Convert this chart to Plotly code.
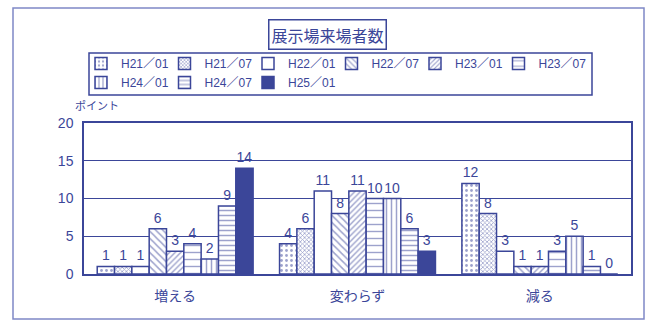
import plotly.graph_objects as go

# Survey answers per period
categories = ["増える", "変わらず", "減る"]
periods = ["H21／01", "H21／07", "H22／01", "H22／07", "H23／01",
           "H23／07", "H24／01", "H24／07", "H25／01"]
h21_01 = [1, 4, 12]
h21_07 = [1, 6, 8]
h22_01 = [1, 11, 3]
h22_07 = [6, 8, 1]
h23_01 = [3, 11, 1]
h23_07 = [4, 10, 3]
h24_01 = [2, 10, 5]
h24_07 = [9, 6, 1]
h25_01 = [14, 3, 0]
series = [h21_01, h21_07, h22_01, h22_07, h23_01, h23_07, h24_01, h24_07, h25_01]

NAVY = "#3b4699"
LIGHT = "#7f88c6"
FONT = "Liberation Sans, Noto Sans CJK JP, sans-serif"

# Plot-area pixel geometry, used to place items given in paper units
PLOT_L, PLOT_W, PLOT_B, PLOT_H = 84, 547, 274, 151


def px_x(px):
    return (px - PLOT_L) / PLOT_W


def px_y(py):
    return (PLOT_B - py) / PLOT_H


# Fill pattern for each period's bars
patterns = [
    dict(shape=".", size=5, solidity=0.25, fgcolor=NAVY, bgcolor="white"),
    dict(shape="x", size=3, solidity=0.45, fgcolor=NAVY, bgcolor="white"),
    dict(shape="", fgcolor=NAVY, bgcolor="white"),
    dict(shape="\\", size=5, solidity=0.3, fgcolor=NAVY, bgcolor="white"),
    dict(shape="/", size=4, solidity=0.35, fgcolor=NAVY, bgcolor="white"),
    dict(shape="-", size=7, solidity=0.2, fgcolor=NAVY, bgcolor="white"),
    dict(shape="|", size=5, solidity=0.3, fgcolor=NAVY, bgcolor="white"),
    dict(shape="-", size=5, solidity=0.3, fgcolor=NAVY, bgcolor="white"),
    dict(shape="", fgcolor=NAVY, bgcolor="white"),
]

N_COLS = 6
COL_PITCH = 83.5


def legend_id(col):
    return "legend" if col == 0 else f"legend{col + 1}"


fig = go.Figure()
for i, (name, vals) in enumerate(zip(periods, series)):
    color = NAVY if i == len(series) - 1 else "white"
    fig.add_trace(go.Bar(
        name=name, x=categories, y=vals,
        text=[str(v) for v in vals], textposition="outside",
        textfont=dict(size=14, color=NAVY, family=FONT),
        cliponaxis=False,
        legend=legend_id(i % N_COLS),
        marker=dict(color=color, line=dict(color=NAVY, width=1.5),
                    pattern=patterns[i]),
    ))

# One vertical legend per column so the two legend rows line up in a grid
legends = {}
for col in range(N_COLS):
    legends[legend_id(col)] = dict(
        orientation="v", x=px_x(81 + COL_PITCH * col), y=px_y(49),
        xanchor="left", yanchor="top",
        borderwidth=0, bgcolor="rgba(0,0,0,0)",
        font=dict(size=12, color=NAVY, family=FONT),
        itemwidth=30, tracegroupgap=0,
    )

fig.update_layout(
    width=649, height=324,
    margin=dict(l=84, r=18, t=123, b=50),
    paper_bgcolor="white", plot_bgcolor="white",
    barmode="group", bargap=0.145, bargroupgap=0,
    font=dict(family=FONT, color=NAVY, size=13),
    showlegend=True,
    **legends,
    xaxis=dict(showline=True, linecolor=NAVY, linewidth=1.5, mirror=True,
               ticks="", ticklabelstandoff=8,
               tickfont=dict(size=14, family=FONT, color=NAVY),
               fixedrange=True),
    yaxis=dict(range=[0, 20], dtick=5, showline=True, linecolor=NAVY,
               linewidth=1.5, mirror=True, showgrid=True, gridcolor=NAVY,
               gridwidth=1, zeroline=False, ticks="", ticklabelstandoff=6,
               tickfont=dict(size=14, family=FONT, color=NAVY)),
    annotations=[
        dict(text="展示場来場者数", xref="paper", yref="paper",
             x=px_x(327), y=px_y(35),
             xanchor="center", yanchor="middle", showarrow=False,
             font=dict(size=16, family="Noto Sans CJK JP", color=NAVY),
             bordercolor=NAVY, borderwidth=1.5, borderpad=2, bgcolor="white"),
        dict(text="ポイント", xref="paper", yref="paper",
             x=px_x(97), y=px_y(105),
             xanchor="center", yanchor="middle", showarrow=False,
             font=dict(size=11, family="Noto Sans CJK JP", color=NAVY)),
    ],
    shapes=[
        # outer frame
        dict(type="rect", xref="paper", yref="paper",
             x0=px_x(13), x1=px_x(644), y0=px_y(319), y1=px_y(8),
             line=dict(color=LIGHT, width=1.5), layer="below"),
        # legend frame
        dict(type="rect", xref="paper", yref="paper",
             x0=px_x(89), x1=px_x(592), y0=px_y(95), y1=px_y(53),
             line=dict(color=NAVY, width=1.5), layer="below"),
    ],
)

fig.write_html("out.html")
